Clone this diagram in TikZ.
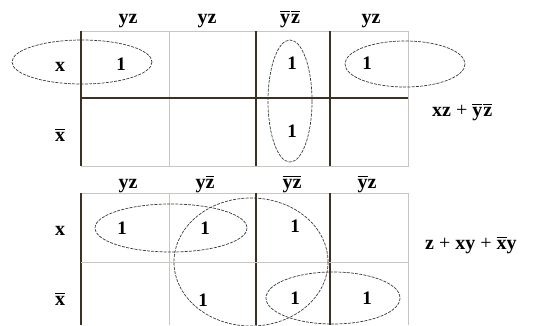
\documentclass[tikz,border=0pt]{standalone}
\usepackage{fontspec}
\setmainfont{Liberation Serif}
\usepackage{xcolor}
\usepackage{tikz}
\usetikzlibrary{positioning}
\definecolor{gridbrown}{HTML}{3A3122}
\definecolor{gridlight}{HTML}{C9C6C0}
\definecolor{loopgray}{HTML}{3A3A3A}
\newcommand{\nbar}[1]{\vbox{\hrule height 0.8pt\kern1.6pt\hbox{#1}}}

\begin{document}
\begin{tikzpicture}[
  x=1pt, y=-1pt,
  lbl/.style={font=\fontsize{20}{22}\selectfont\bfseries, inner sep=0pt},
  one/.style={font=\fontsize{19}{21}\selectfont\bfseries, inner sep=0pt},
  heavy/.style={draw=gridbrown, line width=1.4pt},
  light/.style={draw=gridlight, line width=0.8pt},
  loop/.style={draw=loopgray, line width=0.7pt, dash pattern=on 3pt off 1.2pt}
]
\useasboundingbox (0,0) rectangle (550,325);

% top map
\draw[light] (81,31) -- (408,31) -- (408,166) -- (81,166);
\draw[light] (169,31) -- (169,166);
\foreach \gx in {81,256,330}{
  \draw[heavy] (\gx,31) -- (\gx,166);
}
\draw[heavy] (81,98) -- (408,98);

\node[lbl, anchor=base] (tc1) at (128,23) {yz};
\node[lbl, anchor=base] (tc2) at (207,23) {yz};
\node[lbl, anchor=base] (tc3) at (290,23) {\nbar{y}\kern1pt\nbar{z}};
\node[lbl, anchor=base] (tc4) at (371,23) {yz};
\node[lbl, anchor=base] (tr1) at (60,71) {x};
\node[lbl, anchor=base] (tr2) at (60,141) {\nbar{x}};

\node[one] (ta) at (121,64) {1};
\node[one] (tb) at (292,63) {1};
\node[one] (tc) at (292,131) {1};
\node[one] (td) at (367,63) {1};

\draw[loop] (82,62) ellipse [x radius=70, y radius=22];
\draw[loop] (290,101) ellipse [x radius=22, y radius=61];
\draw[loop] (405,64) ellipse [x radius=60, y radius=23];

\node[lbl, anchor=base west] (tf) at (432,116) {xz {\mdseries+} \nbar{y}\kern1pt\nbar{z}};

% bottom map
\draw[light] (81,193) -- (408,193) -- (408,325);
\draw[light] (169,193) -- (169,325);
\foreach \gx in {81,256,330}{
  \draw[heavy] (\gx,193) -- (\gx,325);
}
\draw[light] (81,262) -- (408,262);

\node[lbl, anchor=base] (bc1) at (128,188) {yz};
\node[lbl, anchor=base] (bc2) at (205,188) {y\nbar{z}};
\node[lbl, anchor=base] (bc3) at (292,188) {\nbar{yz}};
\node[lbl, anchor=base] (bc4) at (367,188) {\nbar{y}z};
\node[lbl, anchor=base] (br1) at (60,235) {x};
\node[lbl, anchor=base] (br2) at (60,305) {\nbar{x}};

\node[one] (ba) at (122,228) {1};
\node[one] (bb) at (205,228) {1};
\node[one] (bc) at (295,226) {1};
\node[one] (bd) at (203,300) {1};
\node[one] (be) at (295,298) {1};
\node[one] (bf) at (367,298) {1};

\draw[loop] (171,228) ellipse [x radius=76, y radius=24];
\draw[loop] (251,262) ellipse [x radius=77, y radius=64];
\draw[loop] (333,298) ellipse [x radius=67, y radius=26];

\node[lbl, anchor=base west] (bf2) at (425,249) {z {\mdseries+} xy {\mdseries+} \nbar{x}y};
\end{tikzpicture}
\end{document}
